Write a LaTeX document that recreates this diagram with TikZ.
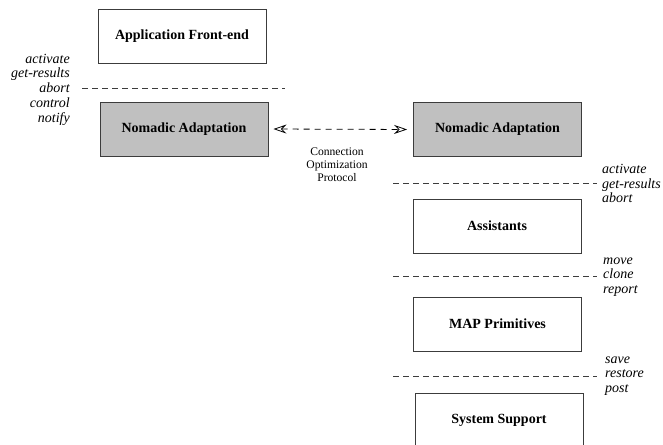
\documentclass[tikz,border=0pt]{standalone}
\usepackage{fontspec}
\setmainfont{Liberation Serif}
\usetikzlibrary{arrows.meta}
\definecolor{boxgray}{RGB}{192,192,192}
\definecolor{linegray}{RGB}{60,60,60}
\begin{document}
\begin{tikzpicture}[x=1pt,y=-1pt,
  layer/.style={draw=linegray, line width=0.9pt, minimum width=168pt, minimum height=54pt,
    inner sep=0pt, font=\fontsize{14}{16}\selectfont\bfseries},
  shaded/.style={layer, fill=boxgray},
  sep/.style={draw=linegray, line width=0.8pt, dash pattern=on 6pt off 4pt},
  ops/.style={font=\fontsize{14}{14.8}\selectfont\itshape, inner sep=0pt},
  proto/.style={draw=black, line width=0.8pt, dash pattern=on 6pt off 5pt,
    {Stealth[open,length=13pt,width=9pt,inset=4.5pt]}-{Stealth[open,length=13pt,width=9pt,inset=4.5pt]},
    shorten <=5pt, shorten >=6pt}]
\useasboundingbox (0,0) rectangle (663,444);

% left column: the front-end above the local adaptation layer
\node[layer]  (app)  at (182,36)    {Application Front-end};
\node[shaded] (nomL) at (184,129)   {Nomadic Adaptation};

% right column: the remote stack
\node[shaded] (nomR) at (497.5,129.5) {Nomadic Adaptation};
\node[layer]  (asst) at (497,226)   {Assistants};
\node[layer]  (map)  at (497.5,324) {MAP Primitives};
\node[layer]  (sys)  at (499,420)   {System Support};

% interface separators
\coordinate (s1a) at (82,88);   \coordinate (s1b) at (285,88);
\coordinate (s2a) at (393,183); \coordinate (s2b) at (597,183);
\coordinate (s3a) at (393,276); \coordinate (s3b) at (597,276);
\coordinate (s4a) at (393,376); \coordinate (s4b) at (597,376);
\draw[sep] (s1a) -- (s1b);
\draw[sep] (s2a) -- (s2b);
\draw[sep] (s3a) -- (s3b);
\draw[sep] (s4a) -- (s4b);

% operations offered across each interface
\node[ops, anchor=east, align=right] (opsA) at (70,89.5)
  {activate\\get-results\\abort\\control\\notify};
\node[ops, anchor=west, align=left] (opsB) at (602,183.5)
  {activate\\get-results\\abort};
\node[ops, anchor=west, align=left] (opsC) at (603,277)
  {move\\clone\\report};
\node[ops, anchor=west, align=left] (opsD) at (605,376)
  {save\\restore\\post};

% peer protocol between the two adaptation layers
\draw[proto] (nomL.east) -- (nomR.west);
\node[align=center, font=\fontsize{11.6}{13}\selectfont, inner sep=0pt] (cop) at (337,165)
  {Connection\\Optimization\\Protocol};
\end{tikzpicture}
\end{document}
